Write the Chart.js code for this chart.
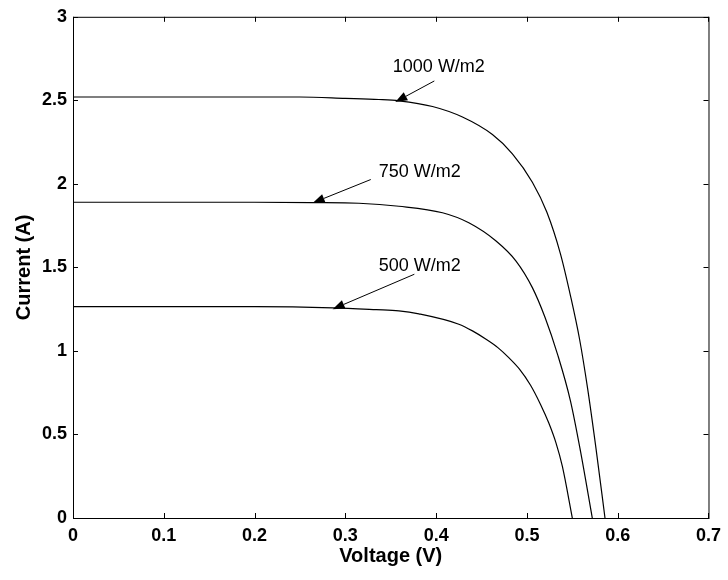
<!DOCTYPE html>
<html>
<head>
<meta charset="utf-8">
<script src="https://cdn.jsdelivr.net/npm/chart.js@4.4.1/dist/chart.umd.min.js"></script>
<style>
  html, body { margin: 0; padding: 0; background: #fff; }
  #wrap { width: 728px; height: 580px; }
</style>
</head>
<body>
<div id="wrap"><canvas id="ivChart" width="728" height="580"></canvas></div>
<script>
// I-V curves (voltage in V, current in A)
const voltage1000 = [0, 0.1, 0.2, 0.25, 0.3, 0.337, 0.359, 0.396, 0.429, 0.462, 0.484, 0.506, 0.522, 0.537, 0.548, 0.558, 0.567, 0.576, 0.586];
const current1000 = [2.52, 2.52, 2.52, 2.52, 2.512, 2.505, 2.497, 2.463, 2.40, 2.295, 2.18, 2.01, 1.83, 1.58, 1.33, 1.07, 0.77, 0.42, 0];

const voltage750 = [0, 0.1, 0.2, 0.264, 0.315, 0.359, 0.407, 0.436, 0.466, 0.488, 0.506, 0.52, 0.534, 0.548, 0.559, 0.572];
const current750 = [1.89, 1.89, 1.89, 1.888, 1.884, 1.866, 1.827, 1.767, 1.658, 1.538, 1.379, 1.20, 0.975, 0.70, 0.40, 0];

const voltage500 = [0, 0.1, 0.2, 0.286, 0.334, 0.359, 0.381, 0.425, 0.44, 0.455, 0.468, 0.48, 0.492, 0.504, 0.515, 0.524, 0.532, 0.539, 0.55];
const current500 = [1.265, 1.265, 1.265, 1.258, 1.247, 1.24, 1.222, 1.16, 1.12, 1.07, 1.02, 0.96, 0.89, 0.795, 0.68, 0.57, 0.45, 0.31, 0];

const xTickValues = [0, 0.1, 0.2, 0.3, 0.4, 0.5, 0.6, 0.7];
const yTickValues = [0, 0.5, 1, 1.5, 2, 2.5, 3];

const curveLabels = ['1000 W/m2', '750 W/m2', '500 W/m2'];

// arrow annotations, anchored in data units: text centre, arrow tail, arrow tip
const arrowNotes = [
    { text: curveLabels[0], at: [0.403, 2.70], from: [0.398, 2.616], to: [0.355, 2.49] },
    { text: curveLabels[1], at: [0.382, 2.072], from: [0.328, 2.026], to: [0.264, 1.886] },
    { text: curveLabels[2], at: [0.382, 1.506], from: [0.376, 1.459], to: [0.286, 1.25] },
];

const FONT = "'Liberation Sans', Arial, Helvetica, sans-serif";

function toPoints(xs, ys) {
    return xs.map((x, i) => ({ x: x, y: ys[i] }));
}

function curve(label, xs, ys) {
    return {
        label: label,
        data: toPoints(xs, ys),
        borderColor: '#000',
        borderWidth: 1.2,
        pointRadius: 0,
        cubicInterpolationMode: 'monotone',
        fill: false,
    };
}

// frame, inward tick marks and arrow labels (matlab style)
const matlabAxes = {
    id: 'matlabAxes',
    afterDraw(chart) {
        const { ctx, chartArea: area, scales: { x, y } } = chart;
        ctx.save();
        ctx.strokeStyle = '#000';
        ctx.lineWidth = 1;
        ctx.strokeRect(area.left + 0.5, area.top + 0.5, area.right - area.left, area.bottom - area.top);

        const tick = 5;
        ctx.beginPath();
        xTickValues.forEach(v => {
            const px = Math.round(x.getPixelForValue(v)) + 0.5;
            ctx.moveTo(px, area.bottom); ctx.lineTo(px, area.bottom - tick);
            ctx.moveTo(px, area.top); ctx.lineTo(px, area.top + tick);
        });
        yTickValues.forEach(v => {
            const py = Math.round(y.getPixelForValue(v)) + 0.5;
            ctx.moveTo(area.left, py); ctx.lineTo(area.left + tick, py);
            ctx.moveTo(area.right, py); ctx.lineTo(area.right - tick, py);
        });
        ctx.stroke();

        // arrows + labels
        arrowNotes.forEach(n => {
            const x0 = x.getPixelForValue(n.from[0]), y0 = y.getPixelForValue(n.from[1]);
            const x1 = x.getPixelForValue(n.to[0]), y1 = y.getPixelForValue(n.to[1]);
            const ang = Math.atan2(y1 - y0, x1 - x0);
            const len = 12, half = 4.5;
            ctx.beginPath();
            ctx.moveTo(x0, y0);
            ctx.lineTo(x1 - Math.cos(ang) * len, y1 - Math.sin(ang) * len);
            ctx.stroke();
            ctx.beginPath();
            ctx.moveTo(x1, y1);
            ctx.lineTo(x1 - Math.cos(ang) * len - Math.sin(ang) * half, y1 - Math.sin(ang) * len + Math.cos(ang) * half);
            ctx.lineTo(x1 - Math.cos(ang) * len + Math.sin(ang) * half, y1 - Math.sin(ang) * len - Math.cos(ang) * half);
            ctx.closePath();
            ctx.fillStyle = '#000';
            ctx.fill();

            ctx.font = '18px ' + FONT;
            ctx.textAlign = 'center';
            ctx.textBaseline = 'middle';
            ctx.fillText(n.text, x.getPixelForValue(n.at[0]), y.getPixelForValue(n.at[1]));
        });
        ctx.restore();
    }
};

const tickFont = { family: FONT, size: 18, weight: 'bold' };
const titleFont = { family: FONT, size: 20, weight: 'bold' };

new Chart(document.getElementById('ivChart'), {
    type: 'line',
    data: {
        datasets: [
            curve(curveLabels[0], voltage1000, current1000),
            curve(curveLabels[1], voltage750, current750),
            curve(curveLabels[2], voltage500, current500),
        ],
    },
    options: {
        responsive: false,
        animation: false,
        layout: { padding: { top: 15, right: 19, left: 0, bottom: 0 } },
        plugins: {
            legend: { display: false },
            tooltip: { enabled: false },
        },
        scales: {
            x: {
                type: 'linear',
                min: 0,
                max: 0.7,
                afterBuildTicks: s => { s.ticks = xTickValues.map(v => ({ value: v })); },
                afterFit: s => { s.height = 62; },
                ticks: {
                    color: '#000',
                    font: tickFont,
                    padding: 7,
                    maxRotation: 0,
                    callback: v => (v === 0 ? '0' : v.toFixed(1)),
                },
                grid: { display: false, drawTicks: false },
                border: { display: false },
                title: {
                    display: true,
                    text: 'Voltage (V)',
                    color: '#000',
                    font: titleFont,
                    padding: { top: 0, bottom: 12 },
                },
            },
            y: {
                type: 'linear',
                min: 0,
                max: 3,
                afterBuildTicks: s => { s.ticks = yTickValues.map(v => ({ value: v })); },
                afterFit: s => { s.width = 73; },
                ticks: {
                    color: '#000',
                    font: tickFont,
                    padding: 6,
                    callback: v => String(v),
                },
                grid: { display: false, drawTicks: false },
                border: { display: false },
                title: {
                    display: true,
                    text: 'Current (A)',
                    color: '#000',
                    font: titleFont,
                    padding: { top: 12, bottom: 0 },
                },
            },
        },
    },
    plugins: [matlabAxes],
});
</script>
</body>
</html>
